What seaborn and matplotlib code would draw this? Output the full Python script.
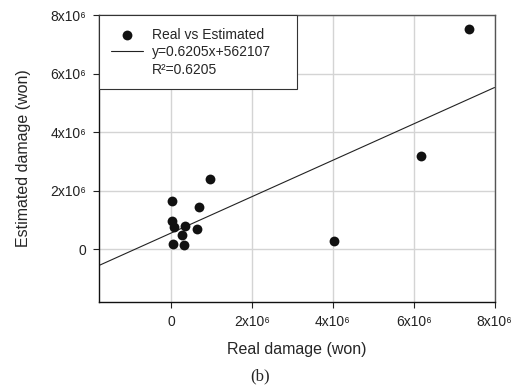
import numpy as np
import pandas as pd
import seaborn as sns
import matplotlib.pyplot as plt
from matplotlib.ticker import FuncFormatter

# Data
real_damage = [0.02e6, 0.68e6, 0.02e6, 0.07e6, 0.33e6, 0.62e6, 0.25e6, 0.03e6, 0.31e6,
               0.96e6, 4.02e6, 6.19e6, 7.37e6]
est_damage = [1.66e6, 1.45e6, 0.98e6, 0.77e6, 0.81e6, 0.68e6, 0.50e6, 0.17e6, 0.15e6,
              2.40e6, 0.29e6, 3.18e6, 7.53e6]
slope = 0.6205
intercept = 562107
r2 = 0.6205
ticks = [0, 2e6, 4e6, 6e6, 8e6]

df = pd.DataFrame({'real': real_damage, 'est': est_damage})

sns.set_style('whitegrid')
plt.rcParams['font.family'] = ['Liberation Sans', 'DejaVu Sans']

fig = plt.figure(figsize=(5.2, 3.87), dpi=100)
ax = fig.add_axes([0.190, 0.2196, 0.761, 0.7414])

sns.scatterplot(data=df, x='real', y='est', ax=ax, color='#111111', s=50,
                edgecolor='#111111', linewidth=0, label='Real vs Estimated', zorder=3)

xmin, xmax = -1.8e6, 8e6
xs = np.array([xmin, xmax])
ax.plot(xs, slope * xs + intercept, color='#222222', lw=0.8,
        label=f'y={slope}x+{intercept}')
ax.plot([], [], ' ', label=f'R\u00b2={r2}')

ax.set_xlim(xmin, xmax)
ax.set_ylim(-1.8e6, 8e6)
ax.set_xticks(ticks)
ax.set_yticks(ticks)

def fmt(v, pos):
    if v == 0:
        return '0'
    return f'{int(round(v / 1e6))}x10\u2076'

ax.xaxis.set_major_formatter(FuncFormatter(fmt))
ax.yaxis.set_major_formatter(FuncFormatter(fmt))
ax.tick_params(axis='both', labelsize=10, colors='#222222', length=4, width=0.8,
               direction='out', bottom=True, left=True, pad=5)
ax.grid(True, color='#d4d4d4', lw=1)

for side in ['left', 'bottom']:
    ax.spines[side].set_color('#111111')
    ax.spines[side].set_linewidth(1.0)
for side in ['top', 'right']:
    ax.spines[side].set_color('#555555')
    ax.spines[side].set_linewidth(1.0)

ax.set_xlabel('Real damage (won)', fontsize=11.5, labelpad=10)
ax.set_ylabel('Estimated damage (won)', fontsize=11.5, labelpad=14)

leg = ax.legend(loc='upper left', bbox_to_anchor=(0, 0, 0.5, 1), mode='expand',
                fontsize=10, frameon=True, fancybox=False,
                borderaxespad=0, handlelength=2.3, handletextpad=0.65,
                borderpad=0.9, labelspacing=0.25)
leg.get_frame().set_edgecolor('#333333')
leg.get_frame().set_linewidth(0.8)
leg.get_frame().set_alpha(1)

fig.text(0.5, 0.027, '(b)', ha='center', va='center', fontsize=12,
         family=['Liberation Serif', 'DejaVu Serif'])

fig.savefig('out.png', dpi=100)
